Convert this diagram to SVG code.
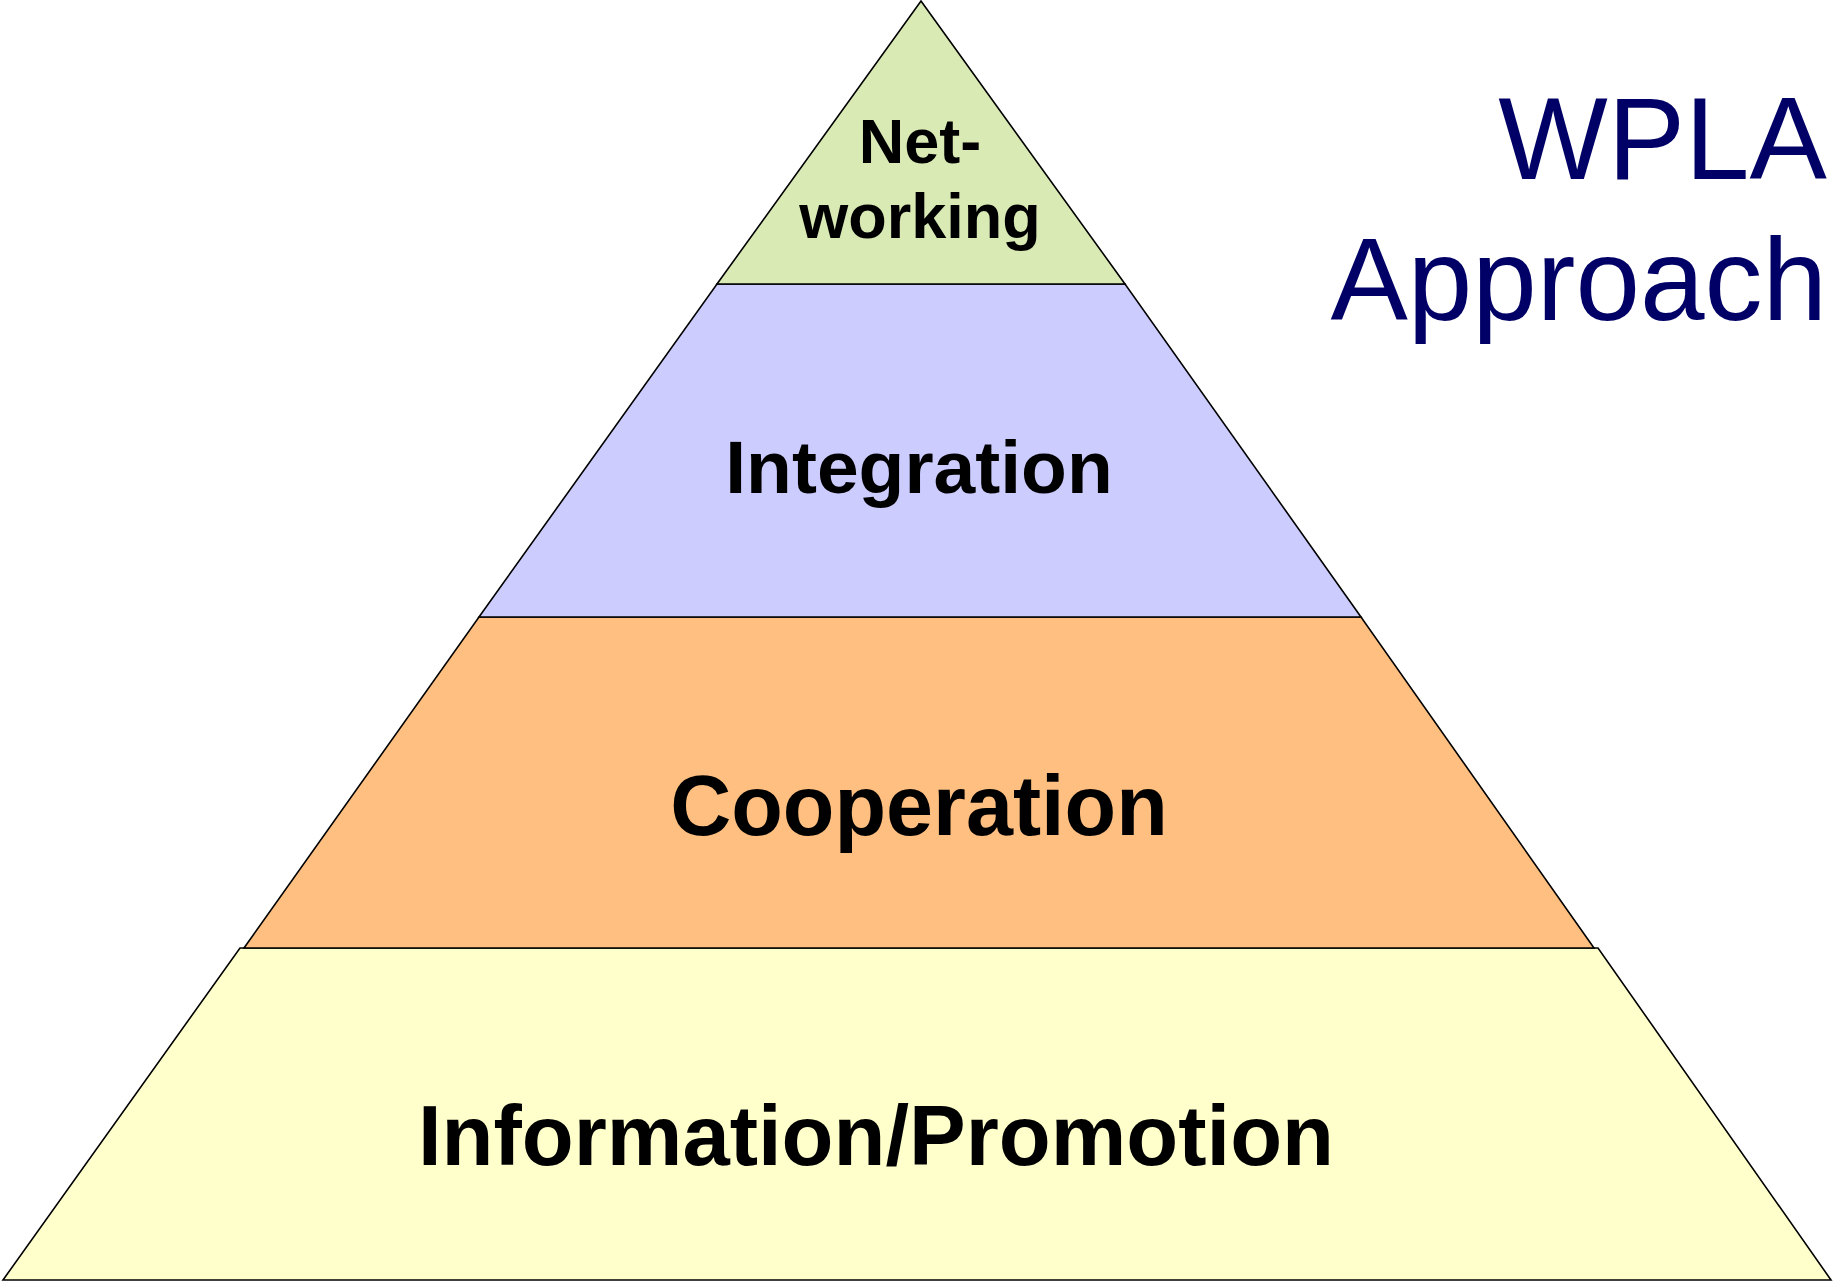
<svg xmlns="http://www.w3.org/2000/svg" width="1833" height="1282" viewBox="0 0 1833 1282">
<style>
.lay{stroke:#000;stroke-width:1.6;stroke-linejoin:miter}
.lbl{font-family:"Liberation Sans",Arial,sans-serif;font-weight:bold;fill:#000;text-anchor:middle}
.ttl{font-family:"Liberation Sans",Arial,sans-serif;fill:#000066;text-anchor:end;font-size:116px}
</style>
<rect width="1833" height="1282" fill="#fff"/>
<g id="layer-information">
<polygon class="lay" fill="#FFFFCC" points="240,948 1598,948 1831,1280 3,1280"/>
<text class="lbl" x="876" y="1165" font-size="85">Information/Promotion</text>
</g>
<g id="layer-cooperation">
<polygon class="lay" fill="#FFBF80" points="479,617 1361,617 1594,948 244,948"/>
<text class="lbl" x="919" y="835" font-size="84.5">Cooperation</text>
</g>
<g id="layer-integration">
<polygon class="lay" fill="#CCCCFF" points="717,284 1125,284 1361,617 479,617"/>
<text class="lbl" x="919" y="493" font-size="75">Integration</text>
</g>
<g id="layer-networking">
<polygon class="lay" fill="#D9EAB5" points="921,1 1125,284 717,284"/>
<text class="lbl" font-size="63"><tspan x="920" y="163">Net-</tspan><tspan x="920" y="238">working</tspan></text>
</g>
<g id="title">
<text class="ttl"><tspan x="1827" y="179">WPLA</tspan><tspan x="1827" y="320">Approach</tspan></text>
</g>
</svg>
